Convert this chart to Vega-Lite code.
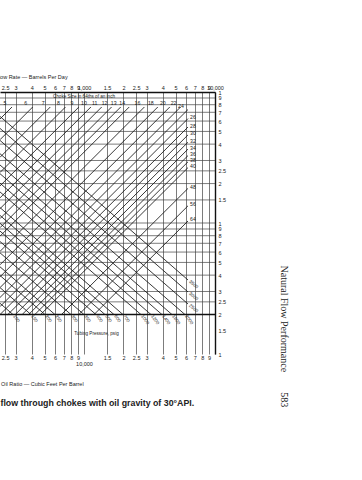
{
  "$schema": "https://vega.github.io/schema/vega-lite/v6.json",
  "width": 215,
  "height": 262,
  "autosize": {"type": "none"},
  "padding": {"left": 0, "top": 92, "right": 147, "bottom": 126},
  "background": "#ffffff",
  "config": {
    "view": {"stroke": null},
    "font": "Liberation Sans",
    "axis": {"ticks": false, "labelFont": "Liberation Sans", "labelFontSize": 5.5, "labelColor": "#222222", "titleFont": "Liberation Sans", "titleFontWeight": "normal", "titleColor": "#222222", "labelOverlap": false, "labelFlush": false}
  },
  "datasets": {
    "hgrid": [
      {"v": 90}, {"v": 80}, {"v": 70}, {"v": 60}, {"v": 50}, {"v": 40}, {"v": 30}, {"v": 25}, {"v": 20}, {"v": 15},
      {"v": 10}, {"v": 9}, {"v": 8}, {"v": 7}, {"v": 6}, {"v": 5}, {"v": 4}, {"v": 3}, {"v": 2.5}, {"v": 2}
    ],
    "lines": [
      {"id": "c5", "label": "5", "side": "start", "q": 228.4, "v": 62.21},
      {"id": "c5", "label": "5", "side": "top", "q": 282.1, "v": 76.83},
      {"id": "c6", "label": "6", "side": "start", "q": 228.4, "v": 43.24},
      {"id": "c6", "label": "6", "side": "top", "q": 405.9, "v": 76.83},
      {"id": "c7", "label": "7", "side": "start", "q": 228.4, "v": 31.73},
      {"id": "c7", "label": "7", "side": "top", "q": 553.0, "v": 76.83},
      {"id": "c8", "label": "8", "side": "start", "q": 228.4, "v": 24.29},
      {"id": "c8", "label": "8", "side": "top", "q": 722.4, "v": 76.83},
      {"id": "c9", "label": "9", "side": "start", "q": 228.4, "v": 19.2},
      {"id": "c9", "label": "9", "side": "top", "q": 914.3, "v": 76.83},
      {"id": "c10", "label": "10", "side": "start", "q": 228.4, "v": 15.55},
      {"id": "c10", "label": "10", "side": "top", "q": 1128.9, "v": 76.83},
      {"id": "c11", "label": "11", "side": "start", "q": 228.4, "v": 12.86},
      {"id": "c11", "label": "11", "side": "top", "q": 1364.9, "v": 76.83},
      {"id": "c12", "label": "12", "side": "start", "q": 228.4, "v": 10.8},
      {"id": "c12", "label": "12", "side": "top", "q": 1624.4, "v": 76.83},
      {"id": "c13", "label": "13", "side": "start", "q": 228.4, "v": 9.207},
      {"id": "c13", "label": "13", "side": "top", "q": 1906.1, "v": 76.83},
      {"id": "c14", "label": "14", "side": "start", "q": 228.4, "v": 7.929},
      {"id": "c14", "label": "14", "side": "top", "q": 2213.3, "v": 76.83},
      {"id": "c16", "label": "16", "side": "start", "q": 228.4, "v": 6.07},
      {"id": "c16", "label": "16", "side": "top", "q": 2891.1, "v": 76.83},
      {"id": "c18", "label": "18", "side": "start", "q": 228.4, "v": 4.796},
      {"id": "c18", "label": "18", "side": "top", "q": 3659, "v": 76.83},
      {"id": "c20", "label": "20", "side": "start", "q": 228.4, "v": 3.884},
      {"id": "c20", "label": "20", "side": "top", "q": 4518, "v": 76.83},
      {"id": "c22", "label": "22", "side": "start", "q": 228.4, "v": 3.213},
      {"id": "c22", "label": "22", "side": "top", "q": 5462.6, "v": 76.83},
      {"id": "c24", "label": "24", "side": "start", "q": 228.4, "v": 2.7},
      {"id": "c24", "label": "24", "side": "top", "q": 6221.4, "v": 73.52},
      {"id": "c26", "label": "26", "side": "start", "q": 228.4, "v": 2.3},
      {"id": "c26", "label": "26", "side": "rightc", "q": 6221.4, "v": 62.65},
      {"id": "c28", "label": "28", "side": "start", "q": 228.4, "v": 2.0},
      {"id": "c28", "label": "28", "side": "rightc", "q": 6221.4, "v": 54.05},
      {"id": "c30", "label": "30", "side": "start", "q": 262.0, "v": 2.0},
      {"id": "c30", "label": "30", "side": "rightc", "q": 6221.4, "v": 47.05},
      {"id": "c32", "label": "32", "side": "start", "q": 298.4, "v": 2.0},
      {"id": "c32", "label": "32", "side": "rightc", "q": 6221.4, "v": 41.38},
      {"id": "c34", "label": "34", "side": "start", "q": 336.9, "v": 2.0},
      {"id": "c34", "label": "34", "side": "rightc", "q": 6221.4, "v": 36.65},
      {"id": "c36", "label": "36", "side": "start", "q": 377.7, "v": 2.0},
      {"id": "c36", "label": "36", "side": "rightc", "q": 6221.4, "v": 32.7},
      {"id": "c38", "label": "38", "side": "start", "q": 421.1, "v": 2.0},
      {"id": "c38", "label": "38", "side": "rightc", "q": 6221.4, "v": 29.32},
      {"id": "c40", "label": "40", "side": "start", "q": 466.3, "v": 2.0},
      {"id": "c40", "label": "40", "side": "rightc", "q": 6221.4, "v": 26.48},
      {"id": "c48", "label": "48", "side": "start", "q": 672.2, "v": 2.0},
      {"id": "c48", "label": "48", "side": "rightc", "q": 6221.4, "v": 18.37},
      {"id": "c56", "label": "56", "side": "start", "q": 912.7, "v": 2.0},
      {"id": "c56", "label": "56", "side": "rightc", "q": 6221.4, "v": 13.53},
      {"id": "c64", "label": "64", "side": "start", "q": 1192.2, "v": 2.0},
      {"id": "c64", "label": "64", "side": "rightc", "q": 6221.4, "v": 10.36},
      {"id": "p100", "label": "100", "side": "start", "q": 228.4, "v": 2.438},
      {"id": "p100", "label": "100", "side": "bottom", "q": 287.1, "v": 2.0},
      {"id": "p150", "label": "150", "side": "start", "q": 228.4, "v": 3.213},
      {"id": "p150", "label": "150", "side": "bottom", "q": 393.9, "v": 2.0},
      {"id": "p200", "label": "200", "side": "start", "q": 228.4, "v": 3.974},
      {"id": "p200", "label": "200", "side": "bottom", "q": 503.8, "v": 2.0},
      {"id": "p250", "label": "250", "side": "start", "q": 228.4, "v": 4.631},
      {"id": "p250", "label": "250", "side": "bottom", "q": 600.7, "v": 2.0},
      {"id": "p300", "label": "300", "side": "start", "q": 228.4, "v": 5.923},
      {"id": "p300", "label": "300", "side": "bottom", "q": 795.7, "v": 2.0},
      {"id": "p350", "label": "350", "side": "start", "q": 228.4, "v": 7.224},
      {"id": "p350", "label": "350", "side": "bottom", "q": 1000, "v": 2.0},
      {"id": "p400", "label": "400", "side": "start", "q": 228.4, "v": 8.673},
      {"id": "p400", "label": "400", "side": "bottom", "q": 1234.8, "v": 2.0},
      {"id": "p500", "label": "500", "side": "start", "q": 228.4, "v": 9.947},
      {"id": "p500", "label": "500", "side": "bottom", "q": 1446.5, "v": 2.0},
      {"id": "p600", "label": "600", "side": "start", "q": 228.4, "v": 11.43},
      {"id": "p600", "label": "600", "side": "bottom", "q": 1694.4, "v": 2.0},
      {"id": "p700", "label": "700", "side": "start", "q": 228.4, "v": 13.11},
      {"id": "p700", "label": "700", "side": "bottom", "q": 1984.8, "v": 2.0},
      {"id": "p1000", "label": "1000", "side": "start", "q": 228.4, "v": 17.27},
      {"id": "p1000", "label": "1000", "side": "bottom", "q": 2723.4, "v": 2.0},
      {"id": "p1200", "label": "1200", "side": "start", "q": 228.4, "v": 20.13},
      {"id": "p1200", "label": "1200", "side": "bottom", "q": 3246.8, "v": 2.0},
      {"id": "p1400", "label": "1400", "side": "start", "q": 228.4, "v": 23.79},
      {"id": "p1400", "label": "1400", "side": "bottom", "q": 3939.3, "v": 2.0},
      {"id": "p1600", "label": "1600", "side": "start", "q": 228.4, "v": 27.72},
      {"id": "p1600", "label": "1600", "side": "bottom", "q": 4696.3, "v": 2.0},
      {"id": "p2000", "label": "2000", "side": "start", "q": 228.4, "v": 33.81},
      {"id": "p2000", "label": "2000", "side": "bottom", "q": 5901.9, "v": 2.0},
      {"id": "p2500", "label": "2500", "side": "start", "q": 228.4, "v": 42.71},
      {"id": "p2500", "label": "2500", "side": "rightp", "q": 6221.4, "v": 2.408},
      {"id": "p3000", "label": "3000", "side": "start", "q": 228.4, "v": 52.74},
      {"id": "p3000", "label": "3000", "side": "rightp", "q": 6221.4, "v": 2.974},
      {"id": "p3500", "label": "3500", "side": "start", "q": 228.4, "v": 65.12},
      {"id": "p3500", "label": "3500", "side": "rightp", "q": 6221.4, "v": 3.672}
    ],
    "notes": [
      {"text": "Choke Size in 64ths of an inch", "q": 1000, "v": 91.6},
      {"text": "Tubing Pressure, psig", "q": 1245, "v": 1.42}
    ]
  },
  "resolve": {"axis": {"x": "independent", "y": "independent"}},
  "layer": [
    {
      "data": {"name": "hgrid"},
      "transform": [{"filter": "datum.v != 2"}],
      "mark": {"type": "rule", "stroke": "#444444", "strokeWidth": 0.7},
      "encoding": {
        "y": {
          "field": "v", "type": "quantitative",
          "scale": {"type": "log", "domain": [1, 100], "nice": false},
          "axis": {
            "orient": "right",
            "values": [100, 90, 80, 70, 60, 50, 40, 30, 25, 20, 15, 10, 9, 8, 7, 6, 5, 4, 3, 2.5, 2, 1.5, 1],
            "labelExpr": "format(datum.value / pow(10, floor(log(datum.value) / LN10 + 1e-9)), '~g')",
            "labelPadding": 3, "labelAlign": "left", "labelBaseline": "middle",
            "grid": false,
            "domain": true, "domainColor": "#111111", "domainWidth": 1.4,
            "title": "Natural Flow Performance\u00a0\u00a0\u00a0\u00a0\u00a0\u00a0\u00a0\u00a0583",
            "titleFont": "Liberation Serif", "titleFontSize": 10, "titleAngle": 90, "titleAlign": "left", "titleBaseline": "middle", "titleX": 68, "titleY": 173
          }
        }
      }
    },
    {
      "data": {"name": "hgrid"},
      "transform": [{"filter": "datum.v == 2"}],
      "mark": {"type": "rule", "stroke": "#111111", "strokeWidth": 1.6},
      "encoding": {
        "y": {"field": "v", "type": "quantitative", "scale": {"type": "log", "domain": [1, 100], "nice": false}, "axis": null}
      }
    },
    {
      "data": {"name": "lines"},
      "mark": {"type": "line", "stroke": "#151515", "strokeWidth": 0.85, "clip": true},
      "encoding": {
        "x": {
          "field": "q", "type": "quantitative",
          "scale": {"type": "log", "domain": [228.4, 10000], "nice": false},
          "axis": {
            "orient": "top",
            "values": [250, 300, 400, 500, 600, 700, 800, 900, 1000, 1500, 2000, 2500, 3000, 4000, 5000, 6000, 7000, 8000, 9000, 10000],
            "labelExpr": "datum.value == 1000 ? ['1,000', ''] : datum.value == 10000 ? ['10,000', ''] : format(datum.value / pow(10, floor(log(datum.value) / LN10 + 1e-9)), '~g')",
            "labelPadding": 1.5, "labelLineHeight": 7, "labelBound": false,
            "grid": true, "gridColor": "#444444", "gridWidth": 0.7,
            "domain": true, "domainColor": "#111111", "domainWidth": 1.4,
            "title": "Flow Rate — Barrels Per Day", "titleFontSize": 5.5, "titleAnchor": "start", "titleAlign": "left", "titleBaseline": "middle", "titleX": -5, "titleY": -16
          }
        },
        "y": {"field": "v", "type": "quantitative", "scale": {"type": "log", "domain": [1, 100], "nice": false}, "axis": null},
        "detail": {"field": "id"}
      }
    },
    {
      "data": {"name": "notes"},
      "mark": {"type": "text", "fontSize": 4.6, "color": "#222222", "align": "center", "baseline": "middle"},
      "encoding": {
        "x": {
          "field": "q", "type": "quantitative",
          "scale": {"type": "log", "domain": [228.4, 10000], "nice": false},
          "axis": {
            "orient": "bottom",
            "values": [250, 300, 400, 500, 600, 700, 800, 900, 1000, 1500, 2000, 2500, 3000, 4000, 5000, 6000, 7000, 8000, 9000],
            "labelExpr": "datum.value == 1000 ? ['', '10,000'] : format(datum.value / pow(10, floor(log(datum.value) / LN10 + 1e-9)), '~g')",
            "labelPadding": 1, "labelBaseline": "top", "labelLineHeight": 6, "labelBound": false,
            "grid": false, "domain": false,
            "title": "Gas Oil Ratio — Cubic Feet Per Barrel", "titleFontSize": 5.5, "titleAnchor": "start", "titleAlign": "left", "titleBaseline": "middle", "titleX": -11, "titleY": 29
          }
        },
        "y": {"field": "v", "type": "quantitative", "scale": {"type": "log", "domain": [1, 100], "nice": false}, "axis": null},
        "text": {"field": "text"}
      }
    },
    {
      "data": {"name": "lines"},
      "transform": [{"filter": "datum.side == 'top'"}],
      "mark": {"type": "text", "fontSize": 5.2, "dx": -7, "dy": -4, "align": "center", "baseline": "middle", "color": "#222222"},
      "encoding": {
        "x": {
          "field": "q", "type": "quantitative",
          "scale": {"type": "log", "domain": [228.4, 10000], "nice": false},
          "axis": {
            "orient": "bottom", "labels": false, "domain": false, "grid": false,
            "title": "flow through chokes with oil gravity of 30°API.", "titleFontSize": 8.8, "titleFontWeight": "bold", "titleAnchor": "start", "titleAlign": "left", "titleBaseline": "middle", "titleX": 0, "titleY": 48
          }
        },
        "y": {"field": "v", "type": "quantitative", "scale": {"type": "log", "domain": [1, 100], "nice": false}, "axis": null},
        "text": {"field": "label"}
      }
    },
    {
      "data": {"name": "lines"},
      "transform": [{"filter": "datum.side == 'rightc'"}],
      "mark": {"type": "text", "fontSize": 5.2, "dx": 2, "dy": -1.5, "align": "left", "baseline": "middle", "color": "#222222"},
      "encoding": {
        "x": {"field": "q", "type": "quantitative", "scale": {"type": "log", "domain": [228.4, 10000], "nice": false}, "axis": null},
        "y": {"field": "v", "type": "quantitative", "scale": {"type": "log", "domain": [1, 100], "nice": false}, "axis": null},
        "text": {"field": "label"}
      }
    },
    {
      "data": {"name": "lines"},
      "transform": [{"filter": "datum.side == 'bottom'"}],
      "mark": {"type": "text", "fontSize": 4.6, "dx": 1.5, "angle": 55, "align": "left", "baseline": "middle", "color": "#222222"},
      "encoding": {
        "x": {"field": "q", "type": "quantitative", "scale": {"type": "log", "domain": [228.4, 10000], "nice": false}, "axis": null},
        "y": {"field": "v", "type": "quantitative", "scale": {"type": "log", "domain": [1, 100], "nice": false}, "axis": null},
        "text": {"field": "label"}
      }
    },
    {
      "data": {"name": "lines"},
      "transform": [{"filter": "datum.side == 'rightp'"}],
      "mark": {"type": "text", "fontSize": 4.6, "dx": 2, "angle": 41, "align": "left", "baseline": "middle", "color": "#222222"},
      "encoding": {
        "x": {"field": "q", "type": "quantitative", "scale": {"type": "log", "domain": [228.4, 10000], "nice": false}, "axis": null},
        "y": {"field": "v", "type": "quantitative", "scale": {"type": "log", "domain": [1, 100], "nice": false}, "axis": null},
        "text": {"field": "label"}
      }
    }
  ]
}
